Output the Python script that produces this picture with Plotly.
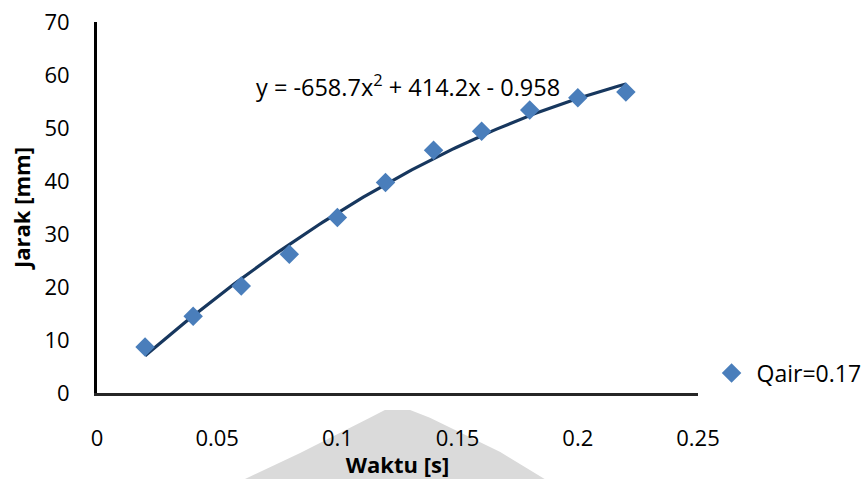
import numpy as np
import plotly.graph_objects as go

# Data
waktu = [0.02, 0.04, 0.06, 0.08, 0.10, 0.12, 0.14, 0.16, 0.18, 0.20, 0.22]
jarak = [8.7, 14.5, 20.2, 26.2, 33.1, 39.7, 45.8, 49.4, 53.4, 55.7, 56.8]
series_name = "Qair=0.17"
equation_text = "y = -658.7x<sup>2</sup> + 414.2x - 0.958"
x_tickvals = [0, 0.05, 0.10, 0.15, 0.20, 0.25]
x_ticktext = ["0", "0.05", "0.1", "0.15", "0.2", "0.25"]
y_tickvals = [0, 10, 20, 30, 40, 50, 60, 70]

# Polynomial (order 2) trendline fitted to the data
coef = np.polyfit(waktu, jarak, 2)
xt = np.linspace(min(waktu), max(waktu), 120)
yt = np.polyval(coef, xt)

FONT = "Open Sans"
FS = 22
fig = go.Figure()
fig.add_trace(go.Scatter(
    x=xt, y=yt, mode="lines", showlegend=False, hoverinfo="skip",
    line=dict(color="#17375E", width=3.2)))
fig.add_trace(go.Scatter(
    x=waktu, y=jarak, mode="markers", name=series_name,
    marker=dict(symbol="diamond", size=15, color="#4A7EBB")))

# light gray watermark shape behind the x title
fig.add_shape(type="path", xref="paper", yref="paper", layer="below",
              path="M 0.246 -0.232 L 0.338 -0.162 L 0.454 -0.067 L 0.479 -0.046 "
                   "L 0.521 -0.046 L 0.554 -0.067 L 0.671 -0.159 L 0.745 -0.232 Z",
              fillcolor="#DADADA", line=dict(width=0))

fig.add_annotation(x=0.1295, y=58.0, xref="x", yref="y", text=equation_text,
                   showarrow=False, font=dict(family=FONT, size=23.5, color="black"),
                   xanchor="center", yanchor="middle")

fig.update_layout(
    width=868, height=479,
    margin=dict(l=97, r=170, t=22, b=86, autoexpand=False),
    paper_bgcolor="white", plot_bgcolor="white",
    font=dict(family=FONT, size=FS, color="black"),
    legend=dict(xref="container", yref="container", x=0.814, y=0.221,
                xanchor="left", yanchor="middle", itemwidth=40,
                font=dict(family=FONT, size=23, color="black"),
                bgcolor="rgba(0,0,0,0)"),
    xaxis=dict(range=[0, 0.25], tickvals=x_tickvals, ticktext=x_ticktext,
               showgrid=False, zeroline=False, showline=True, automargin=False,
               linecolor="#262626", linewidth=3, ticks="", ticklabelstandoff=24,
               title=dict(text="<b>Waktu [s]</b>", standoff=0,
                          font=dict(family=FONT, size=FS, color="black"))),
    yaxis=dict(range=[0, 70], tickvals=y_tickvals,
               showgrid=False, zeroline=False, showline=True, automargin=False,
               linecolor="black", linewidth=3, ticks="", ticklabelstandoff=20,
               title=dict(text="<b>Jarak [mm]</b>", standoff=8,
                          font=dict(family=FONT, size=FS, color="black"))),
)

fig.write_html("out.html")
